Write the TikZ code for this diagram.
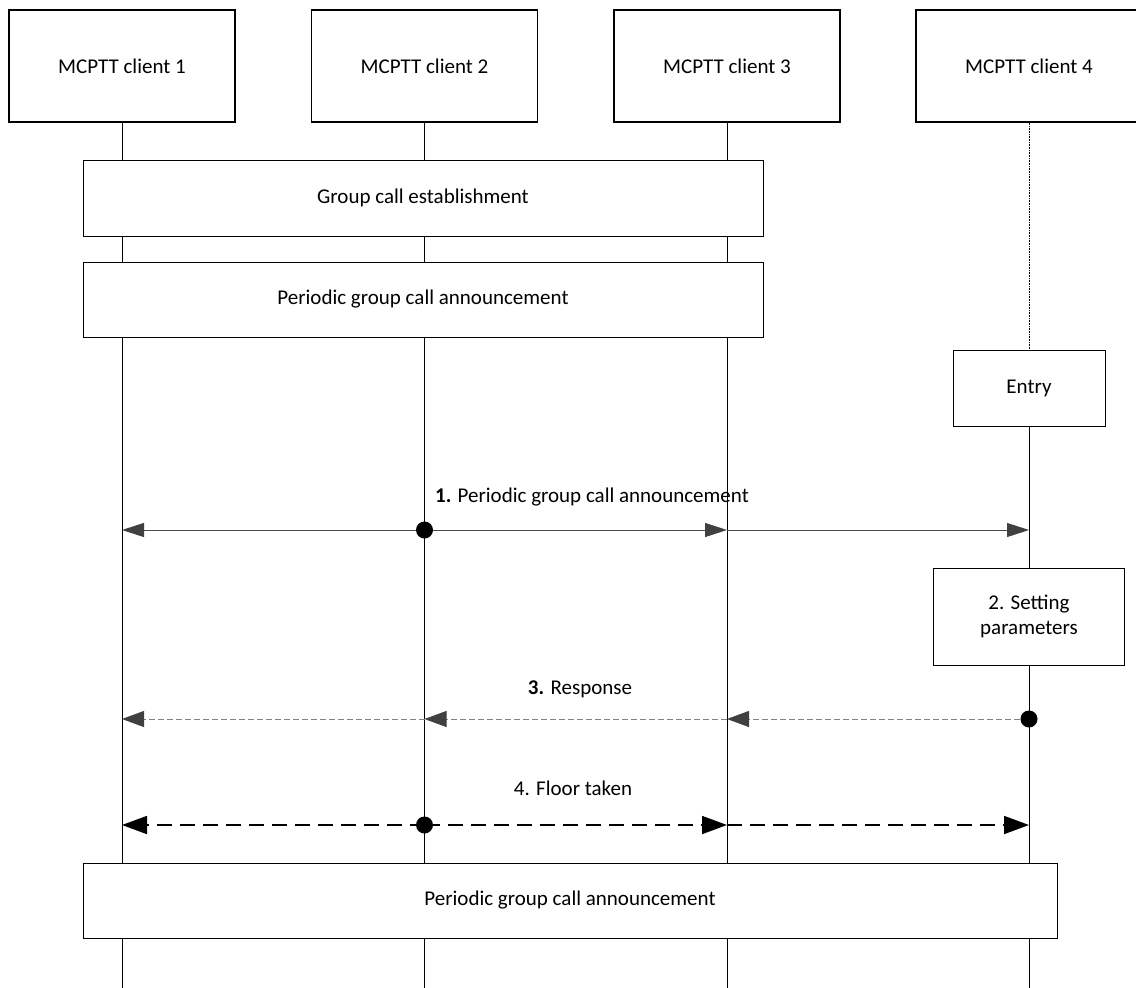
\documentclass[tikz,border=0pt]{standalone}
\usepackage{fontspec}
\setmainfont{Carlito}
\usetikzlibrary{arrows.meta,positioning,backgrounds}

\begin{document}
\begin{tikzpicture}[
  x=1pt, y=-1pt,
  font=\fontsize{21}{25}\selectfont,
  hdr/.style={draw, line width=1.6pt, fill=white, minimum width=226pt, minimum height=112pt},
  blk/.style={draw, line width=0.6pt, fill=white, align=center, inner sep=0pt},
  life/.style={line width=0.9pt},
  dot/.style={circle, fill=black, inner sep=0pt, minimum size=17pt},
  ann/.style={draw=black!70, line width=0.9pt, -{Triangle[length=22pt,width=14pt,color=black!75]}},
  rsp/.style={draw=black!50, line width=0.9pt, dash pattern=on 6pt off 3pt, -{Triangle[length=22pt,width=16pt,color=black!75]}},
  flr/.style={draw=black, line width=1.8pt, dash pattern=on 15pt off 8pt, -{Triangle[length=25pt,width=18pt]}}
]
\useasboundingbox (0,0) rectangle (1136,988);
\clip (0,0) rectangle (1136,988);

% clients
\node[hdr] (c1) at (122,66) {MCPTT client 1};
\node[hdr] (c2) at (424.5,66) {MCPTT client 2};
\node[hdr] (c3) at (727,66) {MCPTT client 3};
\node[hdr] (c4) at (1029,66) {MCPTT client 4};
\coordinate (bot) at (0,988);

% procedure boxes
\node[blk, minimum width=680pt, minimum height=76pt] (est) at (423,198) {Group call establishment};
\node[blk, minimum width=680pt, minimum height=75pt] (ann1) at (423,299.5) {Periodic group call announcement};
\node[blk, minimum width=152pt, minimum height=76pt] (entry) at (1029,388) {Entry};
\node[blk, minimum width=191pt, minimum height=97pt] (set) at (1029,616.5) {2. Setting\\parameters};
\node[blk, minimum width=974pt, minimum height=75pt] (ann2) at (570,900.5) {Periodic group call announcement};

% lifelines
\begin{scope}[on background layer]
\foreach \c in {c1,c2,c3}
  \draw[life] (\c.south) -- (\c.south |- bot);
\draw[line width=0.6pt, densely dotted] (c4.south) -- (entry.north);
\draw[life] (entry.south) -- (entry.south |- bot);
\end{scope}

% message points
\foreach \c in {c1,c2,c3,c4} {
  \coordinate (\c-a) at (\c |- 0,530);
  \coordinate (\c-r) at (\c |- 0,719);
  \coordinate (\c-f) at (\c |- 0,825);
}

% 1. periodic announcement
\draw[ann] (c2-a) -- (c1-a);
\draw[ann] (c2-a) -- (c3-a);
\draw[ann] (c3-a) -- (c4-a);
\node[dot] at (c2-a) {};
\node (m1) at (592,497) {\textbf{1.} Periodic group call announcement};

% 3. response
\draw[rsp] (c4-r) -- (c3-r);
\draw[rsp] (c3-r) -- (c2-r);
\draw[rsp] (c2-r) -- (c1-r);
\node[dot] at (c4-r) {};
\node (m3) at (580,689) {\textbf{3.} Response};

% 4. floor taken
\draw[flr] (c2-f) -- (c1-f);
\draw[flr] (c2-f) -- (c3-f);
\draw[flr] (c3-f) -- (c4-f);
\node[dot] at (c2-f) {};
\node (m4) at (573,788) {4. Floor taken};
\end{tikzpicture}
\end{document}
